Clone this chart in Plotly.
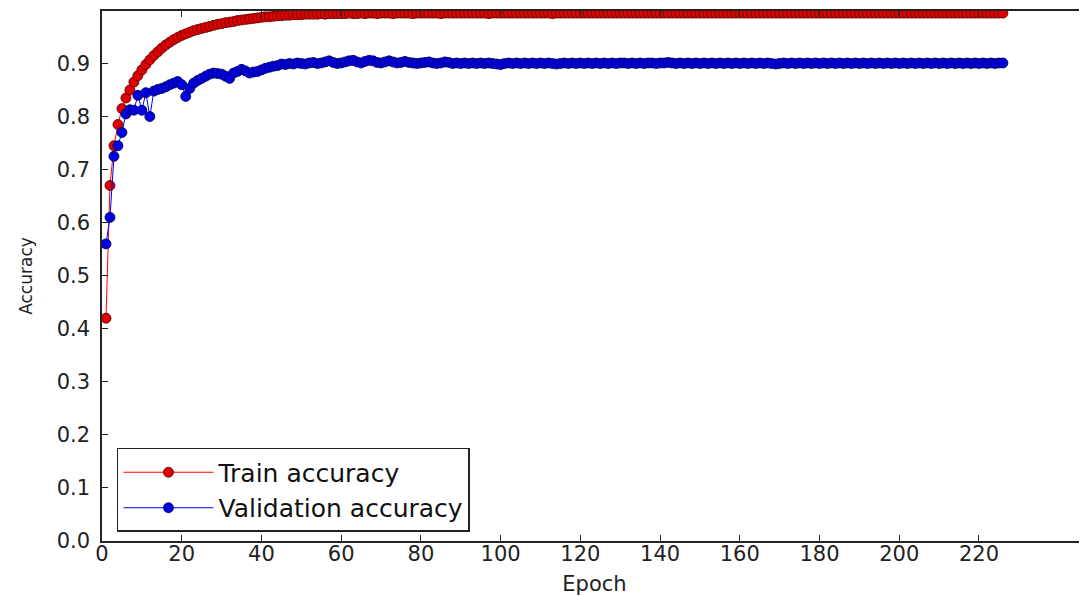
import plotly.graph_objects as go

epochs = list(range(1, 227))

train_acc = [
    0.420, 0.670, 0.745, 0.785, 0.815, 0.835, 0.850, 0.865, 0.877, 0.888,
    0.898, 0.907, 0.915, 0.922, 0.929, 0.935, 0.940, 0.945, 0.949, 0.953,
    0.956, 0.959, 0.962, 0.964, 0.966, 0.968, 0.970, 0.972, 0.974, 0.975,
    0.977, 0.978, 0.979, 0.981, 0.982, 0.983, 0.984, 0.985, 0.986, 0.987,
    0.988, 0.988, 0.989, 0.990, 0.990, 0.991, 0.991, 0.992, 0.992, 0.992,
    0.993, 0.993, 0.993, 0.993, 0.994, 0.993, 0.994, 0.994, 0.994, 0.994,
    0.994, 0.995, 0.994, 0.994, 0.995, 0.994, 0.995, 0.995, 0.994, 0.995,
    0.995, 0.995, 0.994, 0.995, 0.995, 0.995, 0.995, 0.994, 0.995, 0.995,
    0.995, 0.995, 0.995, 0.995, 0.994, 0.995, 0.995, 0.995, 0.995, 0.995,
    0.995, 0.995, 0.995, 0.995, 0.995, 0.995, 0.994, 0.995, 0.995, 0.995,
    0.995, 0.995, 0.995, 0.995, 0.995, 0.995, 0.995, 0.995, 0.995, 0.995,
    0.995, 0.995, 0.994, 0.995, 0.995, 0.995, 0.995, 0.995, 0.995, 0.995,
    0.995, 0.995, 0.995, 0.995, 0.995, 0.995, 0.995, 0.995, 0.995, 0.995,
    0.995, 0.995, 0.995, 0.995, 0.995, 0.995, 0.995, 0.995, 0.995, 0.995,
    0.995, 0.995, 0.995, 0.995, 0.995, 0.995, 0.995, 0.995, 0.995, 0.995,
    0.995, 0.995, 0.995, 0.995, 0.995, 0.995, 0.995, 0.995, 0.995, 0.995,
    0.995, 0.995, 0.995, 0.995, 0.995, 0.995, 0.995, 0.995, 0.995, 0.995,
    0.995, 0.995, 0.995, 0.995, 0.995, 0.995, 0.995, 0.995, 0.995, 0.995,
    0.995, 0.995, 0.995, 0.995, 0.995, 0.995, 0.995, 0.995, 0.995, 0.995,
    0.995, 0.995, 0.995, 0.995, 0.995, 0.995, 0.995, 0.995, 0.995, 0.995,
    0.995, 0.995, 0.995, 0.995, 0.995, 0.995, 0.995, 0.995, 0.995, 0.995,
    0.995, 0.995, 0.995, 0.995, 0.995, 0.995, 0.995, 0.995, 0.995, 0.995,
    0.995, 0.995, 0.995, 0.995, 0.995, 0.995,
]

val_acc = [
    0.560, 0.610, 0.725, 0.745, 0.770, 0.805, 0.813, 0.812, 0.840, 0.812,
    0.845, 0.800, 0.848, 0.851, 0.853, 0.856, 0.860, 0.863, 0.866, 0.860,
    0.838, 0.853, 0.863, 0.868, 0.872, 0.876, 0.880, 0.882, 0.881, 0.880,
    0.876, 0.872, 0.882, 0.885, 0.889, 0.886, 0.882, 0.884, 0.885, 0.888,
    0.891, 0.893, 0.895, 0.896, 0.899, 0.898, 0.900, 0.899, 0.901, 0.900,
    0.899, 0.901, 0.902, 0.900, 0.901, 0.903, 0.905, 0.902, 0.900, 0.901,
    0.903, 0.905, 0.906, 0.903, 0.901, 0.904, 0.906, 0.905, 0.902, 0.901,
    0.903, 0.905, 0.903, 0.901, 0.902, 0.904, 0.902, 0.901, 0.900, 0.901,
    0.902, 0.903, 0.901, 0.900, 0.901, 0.903, 0.902, 0.900, 0.901, 0.900,
    0.901, 0.900, 0.901, 0.900, 0.901, 0.900, 0.901, 0.900, 0.899, 0.898,
    0.900, 0.901, 0.900, 0.901, 0.900, 0.901, 0.900, 0.901, 0.900, 0.901,
    0.900, 0.901, 0.900, 0.899, 0.900, 0.901, 0.900, 0.901, 0.900, 0.901,
    0.900, 0.901, 0.900, 0.901, 0.900, 0.901, 0.900, 0.901, 0.900, 0.901,
    0.901, 0.900, 0.901, 0.900, 0.901, 0.900, 0.901, 0.901, 0.900, 0.901,
    0.901, 0.902, 0.901, 0.900, 0.901, 0.900, 0.901, 0.900, 0.901, 0.900,
    0.901, 0.900, 0.901, 0.900, 0.901, 0.900, 0.901, 0.900, 0.901, 0.900,
    0.901, 0.900, 0.901, 0.900, 0.901, 0.900, 0.901, 0.900, 0.899, 0.900,
    0.901, 0.900, 0.901, 0.900, 0.901, 0.900, 0.901, 0.900, 0.901, 0.900,
    0.901, 0.900, 0.901, 0.900, 0.901, 0.900, 0.901, 0.900, 0.901, 0.900,
    0.901, 0.900, 0.901, 0.900, 0.901, 0.900, 0.901, 0.900, 0.901, 0.900,
    0.901, 0.900, 0.901, 0.900, 0.901, 0.900, 0.901, 0.900, 0.901, 0.900,
    0.901, 0.900, 0.901, 0.900, 0.901, 0.900, 0.901, 0.900, 0.901, 0.900,
    0.901, 0.900, 0.901, 0.900, 0.901, 0.901,
]

x_ticks = [0, 20, 40, 60, 80, 100, 120, 140, 160, 180, 200, 220]
y_ticks = [0.0, 0.1, 0.2, 0.3, 0.4, 0.5, 0.6, 0.7, 0.8, 0.9]
y_tick_labels = ["0.0", "0.1", "0.2", "0.3", "0.4", "0.5", "0.6", "0.7", "0.8", "0.9"]

FONT = "DejaVu Sans"

fig = go.Figure()
fig.add_trace(go.Scatter(
    x=epochs, y=train_acc, mode="lines+markers", name="Train accuracy",
    line=dict(color="#ff0000", width=1),
    marker=dict(size=10, color="#e00000", line=dict(color="#500000", width=0.8)),
    cliponaxis=True,
))
fig.add_trace(go.Scatter(
    x=epochs, y=val_acc, mode="lines+markers", name="Validation accuracy",
    line=dict(color="#0000ff", width=1),
    marker=dict(size=10, color="#0000e0", line=dict(color="#000050", width=0.8)),
    cliponaxis=True,
))

# the page body has an 8px margin, so the figure is sized to fit the window
fig.update_layout(
    width=1079, height=588, autosize=False,
    margin=dict(l=94, r=0, t=3, b=55, autoexpand=False),
    paper_bgcolor="white", plot_bgcolor="white",
    font=dict(family=FONT, color="#222222"),
    showlegend=True,
    legend=dict(
        x=0.0152, y=0.017, xanchor="left", yanchor="bottom",
        bgcolor="white", bordercolor="#222222", borderwidth=1.5,
        font=dict(family=FONT, size=25, color="#111111"),
        itemwidth=90, tracegroupgap=0,
    ),
    xaxis=dict(
        range=[0, 247.1], tickvals=x_ticks, ticks="inside", ticklen=6,
        tickcolor="#222222", showline=True, linecolor="#222222", linewidth=1.5,
        mirror="ticks", showgrid=False, zeroline=False, automargin=False,
        tickfont=dict(family=FONT, size=21, color="#222222"),
        ticklabelstandoff=-7,
        title=dict(text="Epoch", font=dict(family=FONT, size=21, color="#222222"), standoff=12),
    ),
    yaxis=dict(
        range=[0, 0.999], tickvals=y_ticks, ticktext=y_tick_labels,
        ticks="inside", ticklen=6, tickcolor="#222222",
        showline=True, linecolor="#222222", linewidth=1.5, mirror=False,
        showgrid=False, zeroline=False, automargin=False,
        tickfont=dict(family=FONT, size=21, color="#222222"),
        ticklabelstandoff=6,
        title=dict(text="Accuracy", font=dict(family=FONT, size=17, color="#222222"), standoff=20),
    ),
)

fig.write_html("out.html")
